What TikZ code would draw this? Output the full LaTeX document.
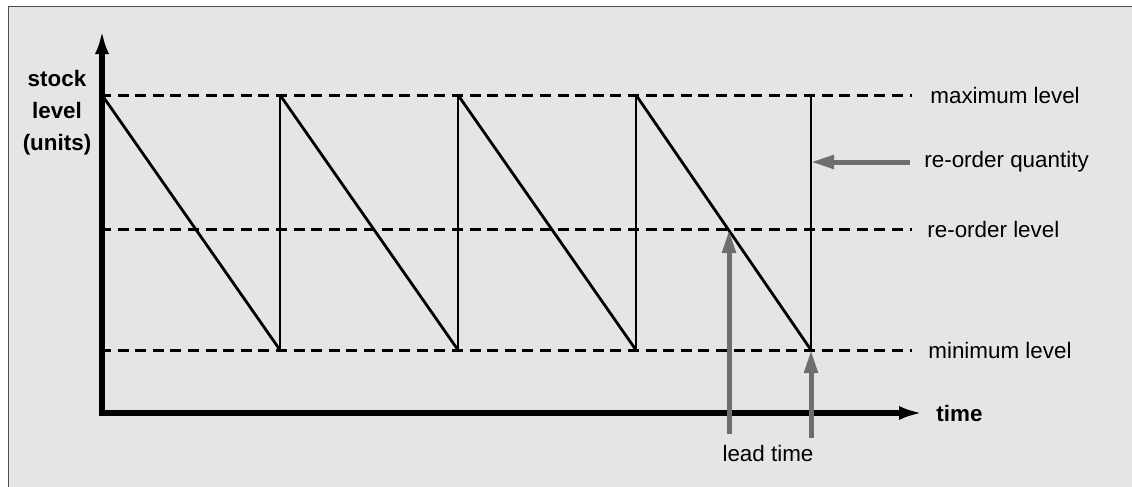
\documentclass[tikz,border=0pt]{standalone}
\usepackage{fontspec}
\setmainfont{Liberation Sans}
\usetikzlibrary{arrows.meta}
\definecolor{bg}{HTML}{E5E5E5}
\definecolor{arrowgray}{HTML}{6E6E6E}
\definecolor{framegray}{HTML}{505050}
\begin{document}
\begin{tikzpicture}[x=0.5pt,y=-0.5pt,
  axisline/.style={line width=3pt, line join=miter, {Latex[length=12pt,width=7pt]}-{Latex[length=12pt,width=7pt]}},
  levelline/.style={line width=1.5pt, dash pattern=on 5.5pt off 3.3pt},
  dropline/.style={line width=1.4pt},
  refill/.style={line width=0.9pt},
  pointer/.style={draw=arrowgray, line width=2.5pt, -{Triangle[length=11.5pt,width=6.5pt]}},
  lbl/.style={font=\fontsize{11.2}{13}\selectfont, anchor=west, inner sep=0pt},
  boldlbl/.style={font=\fontsize{11.2}{16}\selectfont\bfseries, inner sep=0pt}]
\useasboundingbox (0,0) rectangle (1132,487);
\fill[bg] (8.5,6.5) rectangle (1132,487);
\draw[framegray, line width=0.75pt] (8.5,487) -- (8.5,6.5) -- (1132,6.5);

% axes
\coordinate (ytop) at (102,30);
\coordinate (origin) at (102,413);
\coordinate (xend) at (923,413);
\draw[axisline] (ytop) -- (origin) -- (xend);

% level lines
\coordinate (maxL) at (100,95);  \coordinate (maxR) at (912,95);
\coordinate (ordL) at (100,229); \coordinate (ordR) at (912,229);
\coordinate (minL) at (100,350); \coordinate (minR) at (912,350);
\draw[levelline] (maxL) -- (maxR);
\draw[levelline] (ordL) -- (ordR);
\draw[levelline] (minL) -- (minR);

% sawtooth
\coordinate (t0) at (102,95);
\coordinate (b1) at (280,350); \coordinate (t1) at (280,95);
\coordinate (b2) at (458,350); \coordinate (t2) at (458,95);
\coordinate (b3) at (636,350); \coordinate (t3) at (636,95);
\coordinate (b4) at (811,350); \coordinate (t4) at (811,95);
\draw[dropline] (t0) -- (b1);
\draw[dropline] (t1) -- (b2);
\draw[dropline] (t2) -- (b3);
\draw[dropline] (t3) -- (b4);
\draw[refill] (b1) -- (t1);
\draw[refill] (b2) -- (t2);
\draw[refill] (b3) -- (t3);
\draw[refill] (b4) -- (t4);

% labels
\node[lbl] (lmax) at (930,95) {maximum level};
\node[lbl] (lqty) at (924,162) {re-order quantity};
\node[lbl] (lord) at (927,229) {re-order level};
\node[lbl] (lmin) at (928,350) {minimum level};
\node[boldlbl, anchor=west] (ltime) at (936,413) {time};
\node[boldlbl, align=center] (lstock) at (57,113) {stock\\level\\(units)};
\node[lbl, anchor=center] (llead) at (768,453) {lead time};

% pointers
\coordinate (qtyStart) at (910,162); \coordinate (qtyEnd) at (811,162);
\draw[pointer] (qtyStart) -- (qtyEnd);
\coordinate (lead1s) at (729,434); \coordinate (lead1e) at (729,230);
\draw[pointer] (lead1s) -- (lead1e);
\coordinate (lead2s) at (811,438); \coordinate (lead2e) at (811,350);
\draw[pointer] (lead2s) -- (lead2e);
\end{tikzpicture}
\end{document}
